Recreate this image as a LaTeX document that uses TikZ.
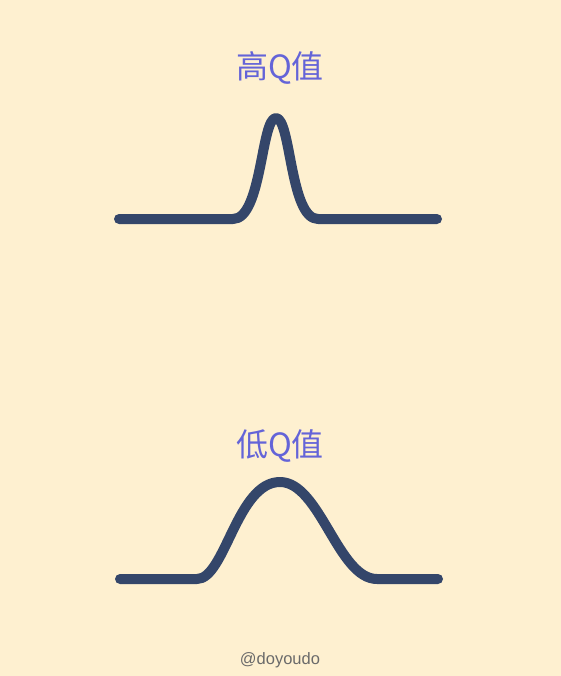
\documentclass[tikz,border=0pt]{standalone}
\usepackage{fontspec}
\newfontfamily\cjk{Noto Sans CJK SC}
\newfontfamily\wm{Liberation Sans}
\definecolor{bgc}{HTML}{FEF0D0}
\definecolor{curvec}{HTML}{34466A}
\definecolor{titlec}{HTML}{6464D8}
\definecolor{wmc}{HTML}{6A6A6A}
\tikzset{
  curve/.style={line width=10pt, color=curvec, line cap=round, line join=round},
  titletext/.style={text=titlec, font=\cjk\fontsize{32}{34}\selectfont, inner sep=0pt},
  wmtext/.style={text=wmc, font=\wm\fontsize{16.5}{18}\selectfont, inner sep=0pt}
}
\begin{document}
\begin{tikzpicture}[x=1pt,y=-1pt]
\fill[bgc] (0,0) rectangle (561,676);
\useasboundingbox (0,0) rectangle (561,676);
% top curve (high Q)
\coordinate (ta) at (119,219);
\coordinate (tb) at (233,219);
\coordinate (tp) at (276,118);
\coordinate (tc) at (318,219);
\coordinate (td) at (437,219);
\draw[curve] (ta) -- (tb) .. controls (262,219) and (261,118) .. (tp)
  .. controls (291,118) and (290,219) .. (tc) -- (td);
% bottom curve (low Q)
\coordinate (ba) at (120,579);
\coordinate (bb) at (197,579);
\coordinate (bp) at (280,482);
\coordinate (bc) at (377,579);
\coordinate (bd) at (438,579);
\draw[curve] (ba) -- (bb) .. controls (225,579) and (237,482) .. (bp)
  .. controls (320,482) and (338,579) .. (bc) -- (bd);
\node[titletext] (t1) at (280,68) {高Q值};
\node[titletext] (t2) at (280,446) {低Q值};
\node[wmtext] (wm) at (280,660) {@doyoudo};
\end{tikzpicture}
\end{document}
